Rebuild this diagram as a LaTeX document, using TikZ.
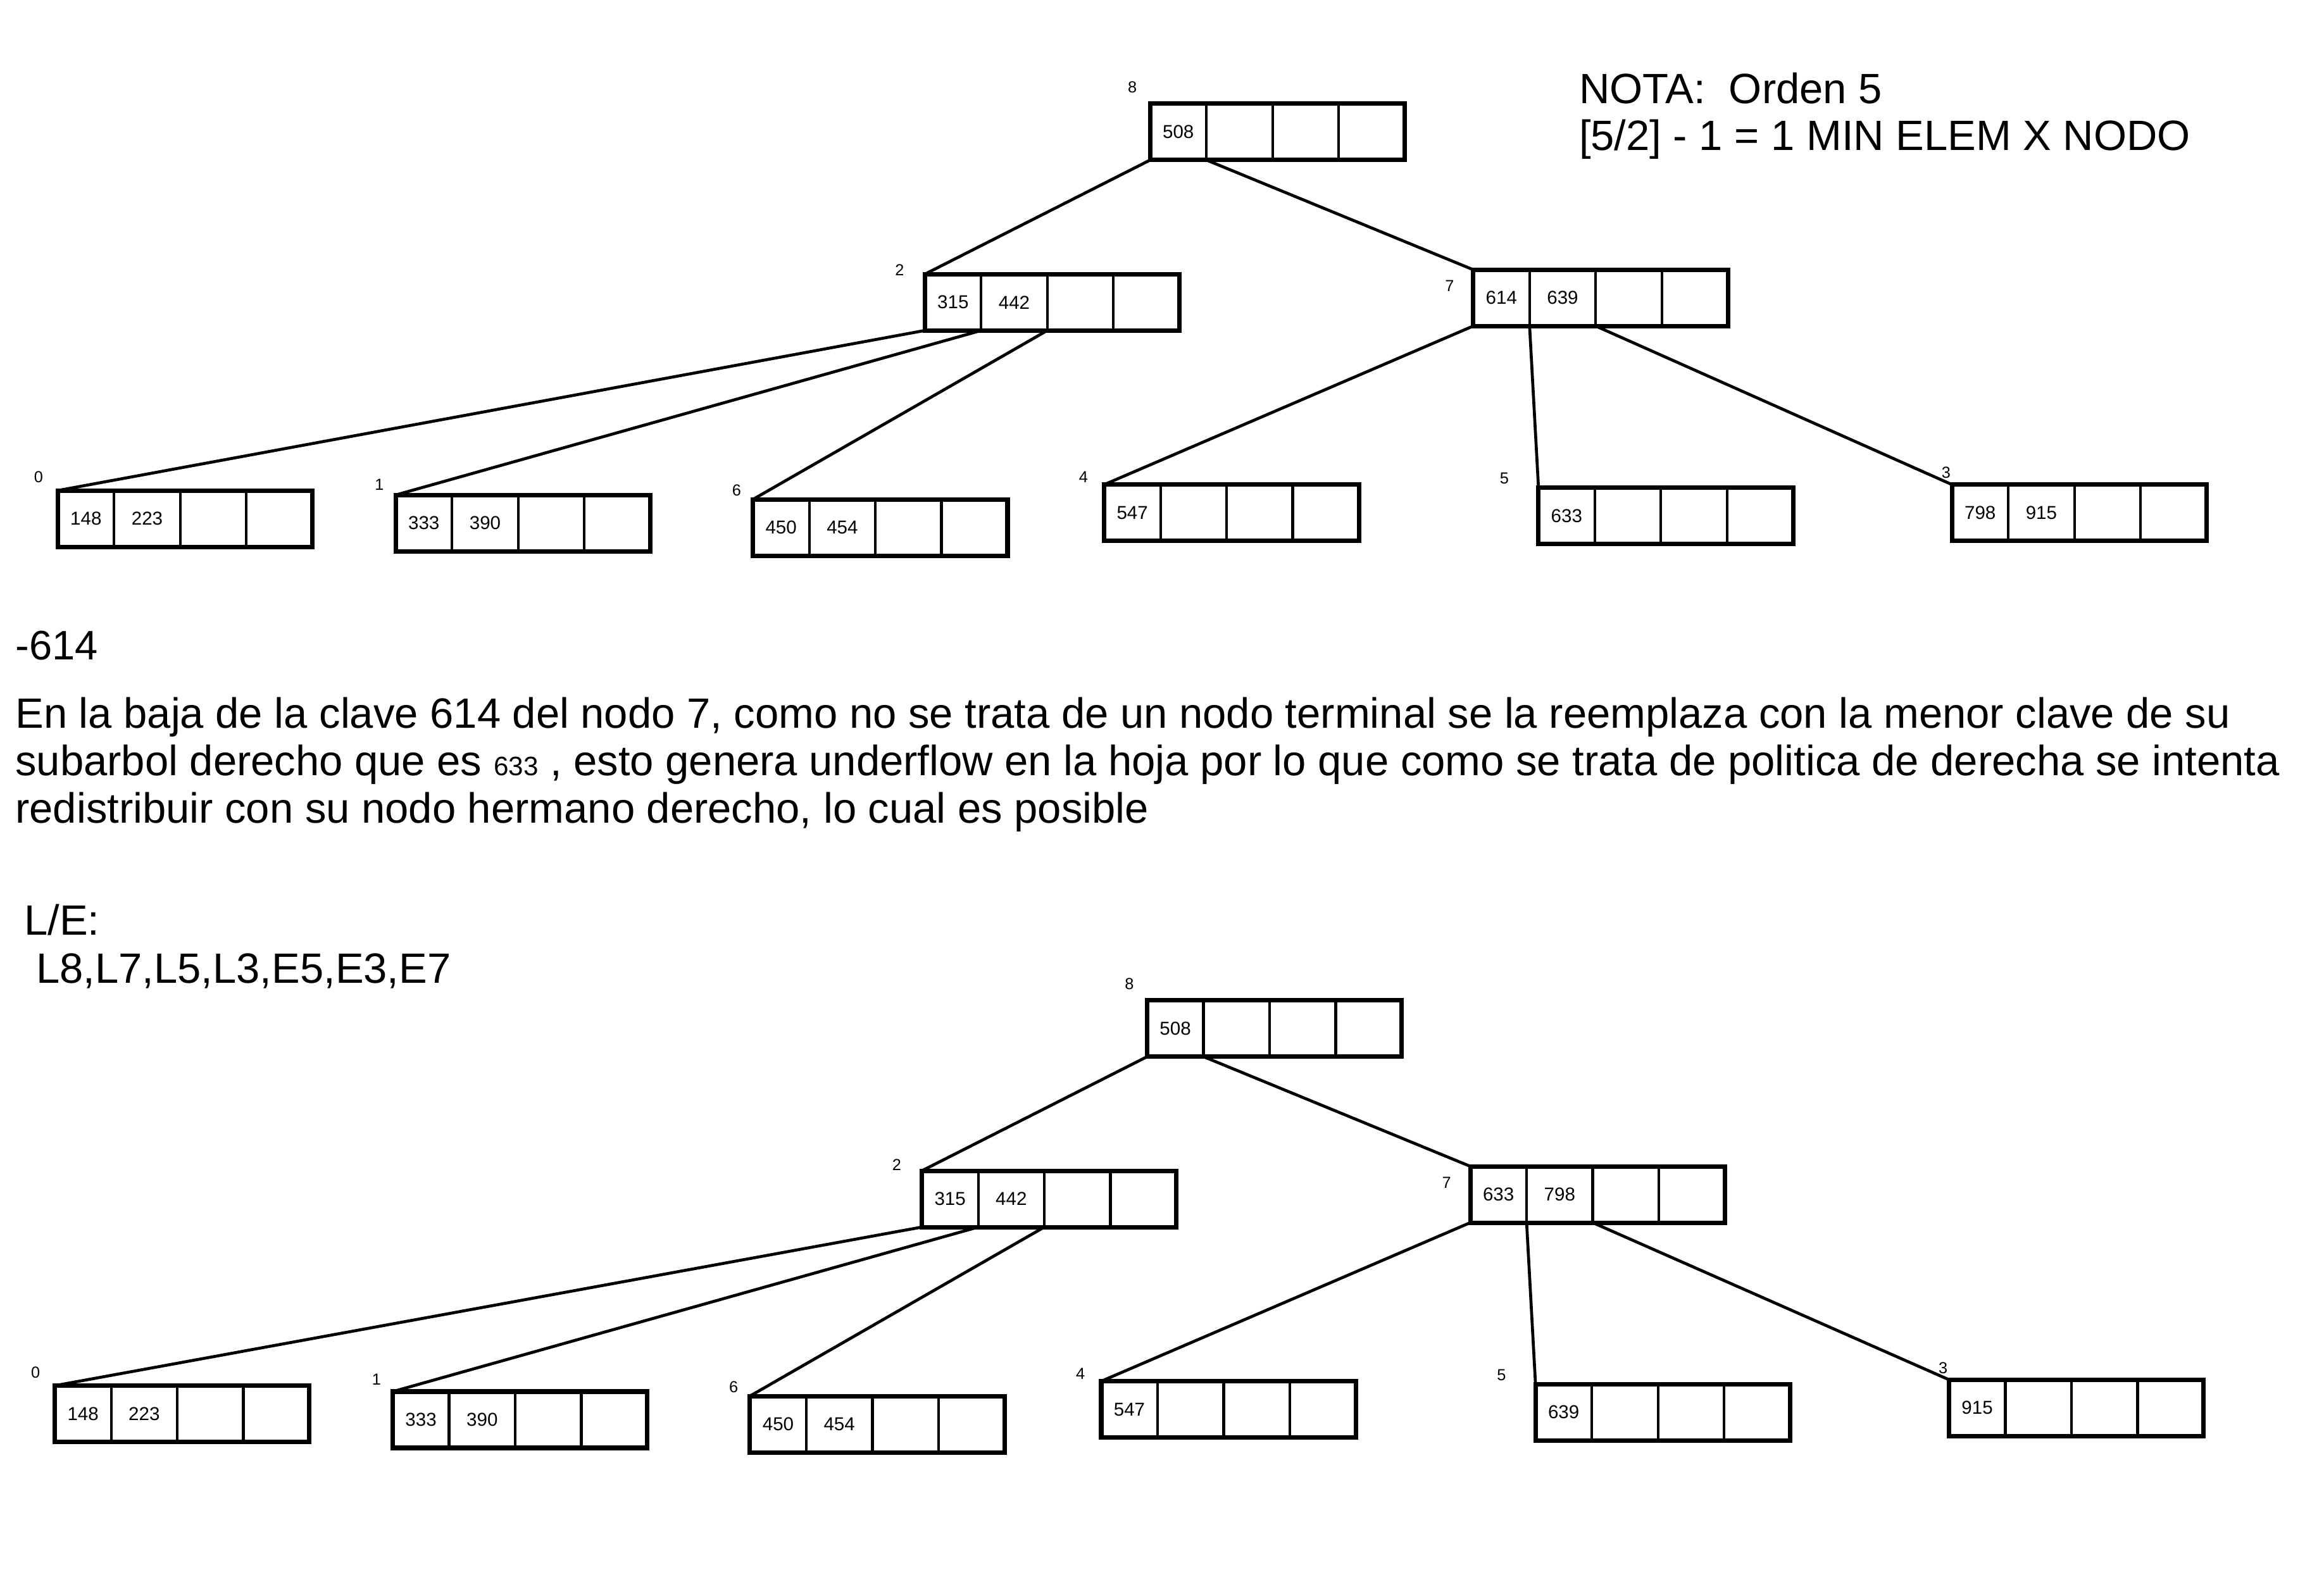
\documentclass[tikz,border=0pt]{standalone}
\usepackage{fontspec}
\setmainfont{Liberation Sans}
\tikzset{
  cell/.style={draw, line width=0.9pt, inner sep=0pt, outer sep=0pt, minimum height=19pt, anchor=north west, font=\fontsize{6.3}{7}\selectfont},
  frame/.style={draw, line width=1.5pt},
  idx/.style={font=\fontsize{5.4}{6}\selectfont, inner sep=0pt},
  link/.style={line width=1pt},
  big/.style={font=\fontsize{14.3}{17}\selectfont, inner sep=0pt, anchor=base west},
  note/.style={font=\fontsize{14.3}{17}\selectfont, inner sep=0pt, anchor=base west},
}
\newcommand\bnode[8]{%
  \node[cell, minimum width=19pt] (#1a) at (#2,#3) {#7};
  \node[cell, minimum width=22.3pt] (#1b) at (#1a.north east) {#8};
  \node[cell, minimum width=22.3pt] (#1c) at (#1b.north east) {};
  \node[cell, minimum width=22.3pt] (#1d) at (#1c.north east) {};
  \draw[frame] (#1a.north west) rectangle (#1d.south east);
  \node[idx] (#1n) at (#4,#5) {#6};
}
\begin{document}
\begin{tikzpicture}[x=0.5pt,y=-0.5pt]
\useasboundingbox[fill=white] (0,0) rectangle (1568,1064.1);
% ---- top tree
\bnode{r}{776}{70}{764}{59}{8}{508}{}
\bnode{n2}{624}{185}{607}{182}{2}{315}{442}
\bnode{n7}{994}{182}{978}{193}{7}{614}{639}
\bnode{lz}{39}{331}{26}{322}{0}{148}{223}
\bnode{lo}{267}{334}{256}{327}{1}{333}{390}
\bnode{ls}{508}{337}{497}{331}{6}{450}{454}
\bnode{lf}{745}{327}{731}{322}{4}{547}{}
\bnode{lv}{1038}{329}{1015}{323}{5}{633}{}
\bnode{lt}{1317}{327}{1313}{319}{3}{798}{915}
\draw[link] (ra.south west) -- (n2a.north west);
\draw[link] (ra.south east) -- (n7a.north west);
\draw[link] (n2a.south west) -- (lza.north west);
\draw[link] (n2a.south east) -- (loa.north west);
\draw[link] (n2b.south east) -- (lsa.north west);
\draw[link] (n7a.south west) -- (lfa.north west);
\draw[link] (n7a.south east) -- (lva.north west);
\draw[link] (n7b.south east) -- (lta.north west);
% ---- bottom tree
\bnode{R}{774}{675}{762}{664}{8}{508}{}
\bnode{N2}{622}{790}{605}{786}{2}{315}{442}
\bnode{N7}{992}{787}{976}{798}{7}{633}{798}
\bnode{Lz}{37}{935}{24}{926}{0}{148}{223}
\bnode{Lo}{265}{939}{254}{931}{1}{333}{390}
\bnode{Ls}{506}{942}{495}{936}{6}{450}{454}
\bnode{Lf}{743}{932}{729}{927}{4}{547}{}
\bnode{Lv}{1036}{934}{1013}{928}{5}{639}{}
\bnode{Lt}{1315}{931}{1311}{923}{3}{915}{}
\draw[link] (Ra.south west) -- (N2a.north west);
\draw[link] (Ra.south east) -- (N7a.north west);
\draw[link] (N2a.south west) -- (Lza.north west);
\draw[link] (N2a.south east) -- (Loa.north west);
\draw[link] (N2b.south east) -- (Lsa.north west);
\draw[link] (N7a.south west) -- (Lfa.north west);
\draw[link] (N7a.south east) -- (Lva.north west);
\draw[link] (N7b.south east) -- (Lta.north west);
% ---- texts
\node[note] (nota1) at (1065,70) {NOTA:\ \ Orden 5};
\node[note] (nota2) at (1065,101.5) {[5/2] - 1 = 1 MIN ELEM X NODO};
\node[big, font=\fontsize{13.9}{17}\selectfont] (del) at (10,445) {-614};
\node[big] (p1) at (10,491.3) {En la baja de la clave 614 del nodo 7, como no se trata de un nodo terminal se la reemplaza con la menor clave de su};
\node[big] (p2) at (10,523.2) {subarbol derecho que es {\fontsize{9}{10}\selectfont 633} , esto genera underflow en la hoja por lo que como se trata de politica de derecha se intenta};
\node[big] (p3) at (10,555.2) {redistribuir con su nodo hermano derecho, lo cual es posible};
\node[note] (le) at (16,631) {L/E:};
\node[note] (seq) at (24,663.3) {L8,L7,L5,L3,E5,E3,E7};
\end{tikzpicture}
\end{document}
